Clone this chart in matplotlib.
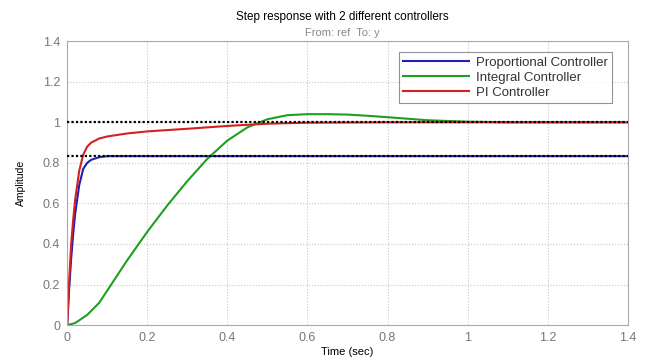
import numpy as np
import matplotlib.pyplot as plt

plt.rcParams['font.family'] = ['Liberation Sans', 'DejaVu Sans']

# step responses
t_p = [0, 0.005, 0.01, 0.015, 0.02, 0.03, 0.04, 0.05, 0.06, 0.08, 0.1, 0.2, 0.6, 1.0, 1.4]
y_p = [0, 0.18, 0.33, 0.45, 0.55, 0.69, 0.77, 0.80, 0.815, 0.828, 0.833, 0.833, 0.833, 0.833, 0.833]

t_i = [0, 0.02, 0.05, 0.08, 0.1, 0.15, 0.2, 0.25, 0.3, 0.35, 0.4, 0.45, 0.5, 0.55,
       0.6, 0.65, 0.7, 0.75, 0.8, 0.9, 1.0, 1.1, 1.4]
y_i = [0, 0.01, 0.05, 0.11, 0.17, 0.32, 0.46, 0.59, 0.71, 0.82, 0.91, 0.975, 1.015, 1.035,
       1.04, 1.04, 1.038, 1.032, 1.025, 1.01, 1.003, 1.0, 1.0]

t_pi = [0, 0.005, 0.01, 0.015, 0.02, 0.03, 0.04, 0.05, 0.06, 0.08, 0.1, 0.15, 0.2, 0.3,
        0.4, 0.5, 0.6, 0.8, 1.4]
y_pi = [0, 0.22, 0.4, 0.52, 0.62, 0.76, 0.84, 0.88, 0.9, 0.92, 0.93, 0.945, 0.955, 0.968,
        0.982, 0.993, 0.998, 1.0, 1.0]

final_vals = [1.0, 0.833]
names = ['Proportional Controller', 'Integral Controller', 'PI Controller']

fig = plt.figure(figsize=(6.46, 3.58), dpi=100)
ax = fig.add_axes([0.104, 0.092, 0.868, 0.793])

ax.plot(t_p, y_p, color='#1f1fb4', lw=1.5, label=names[0])
ax.plot(t_i, y_i, color='#1f9f1f', lw=1.5, label=names[1])
ax.plot(t_pi, y_pi, color='#d42020', lw=1.5, label=names[2])
for v in final_vals:
    ax.plot([0, 1.4], [v, v], color='black', ls=(0, (1, 1)), lw=1.6, zorder=5)

ax.set_xlim(0, 1.4)
ax.set_ylim(0, 1.4)
ticks = np.arange(0, 1.41, 0.2)
ax.set_xticks(ticks)
ax.set_yticks(ticks)
ax.set_xticklabels(['0', '0.2', '0.4', '0.6', '0.8', '1', '1.2', '1.4'])
ax.set_yticklabels(['0', '0.2', '0.4', '0.6', '0.8', '1', '1.2', '1.4'])
ax.tick_params(colors='#888888', labelcolor='#777777', labelsize=9, length=0, pad=5)
for s in ax.spines.values():
    s.set_color('#aaaaaa')
ax.grid(True, color='#c8c8c8', ls=':', lw=0.8)

ax.set_xlabel('Time (sec)', fontsize=8, labelpad=2)
ax.set_ylabel('Amplitude', fontsize=7.5, labelpad=12)
fig.text(0.53, 0.945, 'Step response with 2 different controllers', ha='center', fontsize=8.5)
fig.text(0.53, 0.9, 'From: ref  To: y', ha='center', fontsize=8, color='#888888')

leg = ax.legend(loc='upper right', fontsize=9.5, frameon=True, fancybox=False,
                edgecolor='#777777', handlelength=5, borderpad=0.35, labelspacing=0.2,
                handletextpad=0.5, bbox_to_anchor=(0.984, 0.985))
leg.get_frame().set_linewidth(0.8)
for txt in leg.get_texts():
    txt.set_color('#333333')

fig.savefig('out.png', dpi=100)
